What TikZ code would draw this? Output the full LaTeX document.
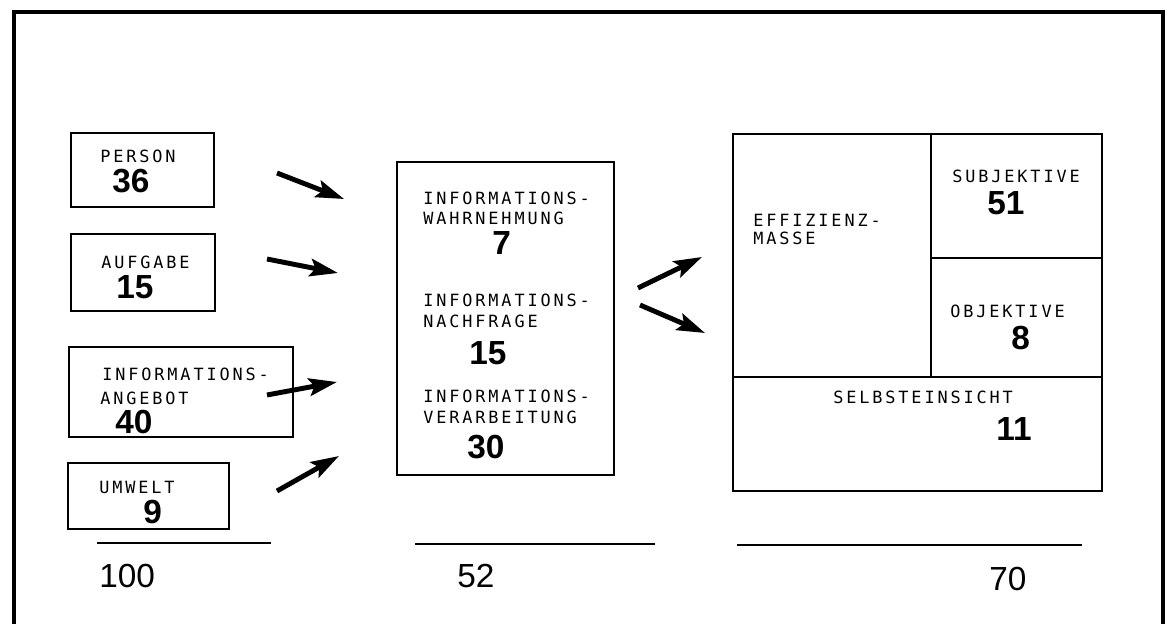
\documentclass[tikz,border=0pt]{standalone}
\usepackage{fontspec}
\setmainfont{Liberation Sans}
\newfontfamily\lblfont[LetterSpace=17]{DejaVu Sans Mono}
\usetikzlibrary{arrows.meta,fit}
\tikzset{
  box/.style={draw, line width=1.1pt, inner sep=0pt},
  lbl/.style={anchor=base west, inner sep=0pt, text depth=0pt, font=\lblfont\fontsize{9.6pt}{11pt}\selectfont},
  num/.style={anchor=base west, inner sep=0pt, font=\fontsize{19pt}{22pt}\selectfont\bfseries},
  total/.style={anchor=base west, inner sep=0pt, font=\fontsize{19pt}{22pt}\selectfont},
  flow/.style={line width=2.8pt, -{Stealth[length=16pt,width=10pt,inset=3pt]}},
  sumrule/.style={line width=1.2pt},
  frameline/.style={line width=2.2pt}
}
\begin{document}
\begin{tikzpicture}[x=0.02cm,y=-0.02cm]
\useasboundingbox (0,0) rectangle (1172,624);
% outer frame
\draw[frameline] (14,624) -- (14,12) -- (1163,12) -- (1163,624);

% left column
\node[box, fit={(71,133) (214,207)}] (person) {};
\node[lbl] (personT) at (100,163) {PERSON};
\node[num] (personN) at (112,193) {36};

\node[box, fit={(71,234) (215,311)}] (aufgabe) {};
\node[lbl] (aufgabeT) at (101,269) {AUFGABE};
\node[num] (aufgabeN) at (116,299) {15};

\node[box, fit={(69,347) (293,437)}] (angebot) {};
\node[lbl] (angebotT1) at (102,380) {INFORMATIONS-};
\node[lbl] (angebotT2) at (100,404) {ANGEBOT};
\node[num] (angebotN) at (115,433) {40};

\node[box, fit={(68,463) (229,529)}] (umwelt) {};
\node[lbl] (umweltT) at (99,493) {UMWELT};
\node[num] (umweltN) at (143,523) {9};

\coordinate (r1a) at (97,543);
\coordinate (r1b) at (271,543);
\draw[sumrule] (r1a) -- (r1b);
\node[total] (sum1) at (99,587) {100};

% arrows into middle
\coordinate (a1s) at (277,173); \coordinate (a1e) at (344,199);
\coordinate (a2s) at (267,259); \coordinate (a2e) at (338,273);
\coordinate (a3s) at (267,395); \coordinate (a3e) at (337,382);
\coordinate (a4s) at (277,491); \coordinate (a4e) at (339,456);
\draw[flow] (a1s) -- (a1e);
\draw[flow] (a2s) -- (a2e);
\draw[flow] (a3s) -- (a3e);
\draw[flow] (a4s) -- (a4e);

% middle column
\node[box, fit={(397,162) (614,475)}] (mid) {};
\node[lbl] (midT1) at (423,205) {INFORMATIONS-};
\node[lbl] (midT2) at (423,225) {WAHRNEHMUNG};
\node[num] (midN1) at (492,255) {7};
\node[lbl] (midT3) at (423,307) {INFORMATIONS-};
\node[lbl] (midT4) at (423,328) {NACHFRAGE};
\node[num] (midN2) at (469,365) {15};
\node[lbl] (midT5) at (423,402) {INFORMATIONS-};
\node[lbl] (midT6) at (423,423) {VERARBEITUNG};
\node[num] (midN3) at (467,458) {30};

\coordinate (r2a) at (415,544);
\coordinate (r2b) at (655,544);
\draw[sumrule] (r2a) -- (r2b);
\node[total] (sum2) at (457,587) {52};

% arrows to right
\coordinate (a5s) at (638,288); \coordinate (a5e) at (702,257);
\coordinate (a6s) at (640,305); \coordinate (a6e) at (705,333);
\draw[flow] (a5s) -- (a5e);
\draw[flow] (a6s) -- (a6e);

% right column
\node[box, fit={(733,134) (1102,491)}] (right) {};
\node[box, fit={(733,134) (931,377)}] (eff) {};
\node[box, fit={(931,134) (1102,258)}] (subj) {};
\node[box, fit={(931,258) (1102,377)}] (obj) {};
\node[box, fit={(733,377) (1102,491)}] (selbst) {};
\node[lbl] (effT1) at (753,227) {EFFIZIENZ-};
\node[lbl] (effT2) at (753,245) {MASSE};
\node[lbl] (subjT) at (952,183) {SUBJEKTIVE};
\node[num] (subjN) at (987,215) {51};
\node[lbl] (objT) at (950,318) {OBJEKTIVE};
\node[num] (objN) at (1011,350) {8};
\node[lbl] (selbstT) at (833,403) {SELBSTEINSICHT};
\node[num] (selbstN) at (996,440) {11};

\coordinate (r3a) at (737,545);
\coordinate (r3b) at (1082,545);
\draw[sumrule] (r3a) -- (r3b);
\node[total] (sum3) at (989,590) {70};
\end{tikzpicture}
\end{document}
